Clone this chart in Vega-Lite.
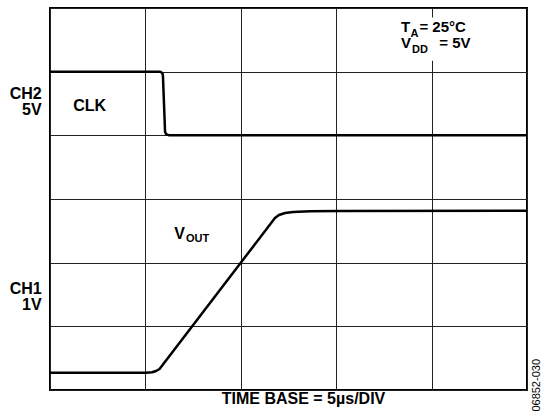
{
  "$schema": "https://vega.github.io/schema/vega-lite/v6.json",
  "width": 477,
  "height": 382,
  "autosize": {"type": "none"},
  "padding": {"left": 50, "top": 8, "right": 15, "bottom": 26},
  "background": "white",
  "config": {
    "view": {"stroke": "#000", "strokeWidth": 2},
    "font": "Liberation Sans",
    "text": {"font": "Liberation Sans", "fontWeight": "bold", "color": "#000", "baseline": "alphabetic"}
  },
  "datasets": {
    "clk": [
      {"t": 0, "v": 5.0},
      {"t": 5.765, "v": 5.0},
      {"t": 5.84, "v": 4.99},
      {"t": 5.9, "v": 4.97},
      {"t": 5.92, "v": 4.93},
      {"t": 6.03, "v": 4.057},
      {"t": 6.08, "v": 4.02},
      {"t": 6.25, "v": 4.0},
      {"t": 25, "v": 4.0}
    ],
    "vout": [
      {"t": 0, "v": 0.272},
      {"t": 5.03, "v": 0.272},
      {"t": 5.35, "v": 0.278},
      {"t": 5.56, "v": 0.298},
      {"t": 5.74, "v": 0.33},
      {"t": 11.79, "v": 2.701},
      {"t": 12.0, "v": 2.749},
      {"t": 12.32, "v": 2.78},
      {"t": 12.74, "v": 2.796},
      {"t": 13.63, "v": 2.807},
      {"t": 15.2, "v": 2.811},
      {"t": 25, "v": 2.816}
    ],
    "box": [{"t": 18.1, "t2": 22.2, "v": 5.85, "v2": 5.17}],
    "labelsLeft": [
      {"t": 1.221, "v": 4.382, "text": "CLK"},
      {"t": 6.515, "v": 2.372, "text": "V"}
    ],
    "labelsNote": [
      {"t": 18.40, "v": 5.618, "text": "T"},
      {"t": 19.36, "v": 5.618, "text": "= 25°C"},
      {"t": 18.40, "v": 5.367, "text": "V"},
      {"t": 20.40, "v": 5.367, "text": "= 5V"}
    ],
    "labelsRight": [
      {"t": -0.435, "v": 4.571, "text": "CH2"},
      {"t": -0.435, "v": 4.319, "text": "5V"},
      {"t": -0.435, "v": 1.503, "text": "CH1"},
      {"t": -0.435, "v": 1.257, "text": "1V"}
    ],
    "subs": [
      {"t": 7.128, "v": 2.329, "text": "OUT"},
      {"t": 18.90, "v": 5.549, "text": "A"},
      {"t": 18.97, "v": 5.288, "text": "DD"}
    ],
    "code": [{"t": 25.52, "v": 0.487, "text": "06852-030"}]
  },
  "encoding": {
    "x": {
      "field": "t",
      "type": "quantitative",
      "scale": {"domain": [0, 25], "nice": false, "zero": false},
      "axis": {
        "values": [0, 5, 10, 15, 20, 25],
        "grid": true,
        "gridColor": "#222",
        "gridWidth": 1,
        "gridOpacity": 1,
        "domain": false,
        "ticks": false,
        "labels": false,
        "title": "TIME BASE = 5µs/DIV",
        "titleFont": "Liberation Sans",
        "titleFontSize": 16,
        "titleFontWeight": "bold",
        "titleColor": "#000",
        "titleX": 253,
        "titleY": 13.3,
        "titleBaseline": "alphabetic",
        "titleAlign": "center"
      }
    },
    "y": {
      "field": "v",
      "type": "quantitative",
      "scale": {"domain": [0, 6], "nice": false, "zero": false},
      "axis": {
        "values": [0, 1, 2, 3, 4, 5, 6],
        "grid": true,
        "gridColor": "#222",
        "gridWidth": 1,
        "gridOpacity": 1,
        "domain": false,
        "ticks": false,
        "labels": false,
        "title": null
      }
    }
  },
  "layer": [
    {
      "data": {"name": "box"},
      "mark": {"type": "rect", "fill": "white", "stroke": null},
      "encoding": {"x2": {"field": "t2"}, "y2": {"field": "v2"}}
    },
    {
      "data": {"name": "clk"},
      "mark": {"type": "line", "color": "#000", "strokeWidth": 2.5, "strokeJoin": "round"}
    },
    {
      "data": {"name": "vout"},
      "mark": {"type": "line", "color": "#000", "strokeWidth": 2.5, "strokeJoin": "round"}
    },
    {
      "data": {"name": "labelsLeft"},
      "mark": {"type": "text", "align": "left", "fontSize": 16},
      "encoding": {"text": {"field": "text"}}
    },
    {
      "data": {"name": "labelsNote"},
      "mark": {"type": "text", "align": "left", "fontSize": 15},
      "encoding": {"text": {"field": "text"}}
    },
    {
      "data": {"name": "labelsRight"},
      "mark": {"type": "text", "align": "right", "fontSize": 16},
      "encoding": {"text": {"field": "text"}}
    },
    {
      "data": {"name": "subs"},
      "mark": {"type": "text", "align": "left", "fontSize": 11},
      "encoding": {"text": {"field": "text"}}
    },
    {
      "data": {"name": "code"},
      "mark": {"type": "text", "align": "right", "baseline": "middle", "angle": 270, "fontSize": 11, "fontWeight": "normal"},
      "encoding": {"text": {"field": "text"}}
    }
  ]
}
